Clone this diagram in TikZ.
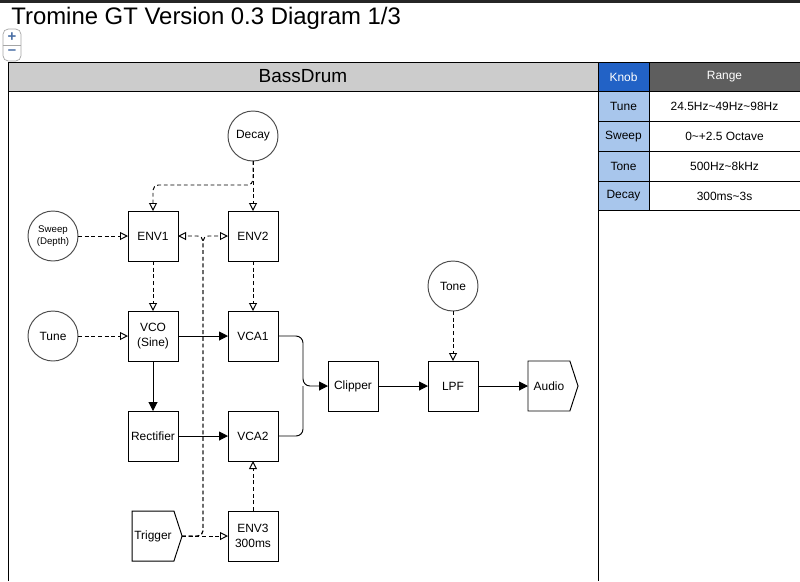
\documentclass[tikz,border=0pt]{standalone}
\usepackage{fontspec}
\setmainfont{Liberation Sans}
\usetikzlibrary{arrows.meta, positioning, shapes.symbols}

\definecolor{hdrgray}{HTML}{CCCCCC}
\definecolor{knobblue}{HTML}{2262C6}
\definecolor{rangegray}{HTML}{5E5E5E}
\definecolor{cellblue}{HTML}{A8C6EC}
\definecolor{zoomblue}{HTML}{4A6FA5}

\begin{document}
\begin{tikzpicture}[
  x=1cm, y=-1cm,
  node distance=1cm and 1cm,
  box/.style={rectangle, draw=black, line width=0.55pt, minimum size=1cm,
              inner sep=0pt, outer sep=0pt, align=center, font=\fontsize{6.8}{8.2}\selectfont},
  knob/.style={circle, draw=black!70, line width=0.55pt, minimum size=1cm,
               inner sep=0pt, outer sep=0pt, align=center, font=\fontsize{6.8}{8.2}\selectfont},
  port/.style={box, signal, signal to=east, signal pointer angle=144},
  cell/.style={rectangle, draw=black, line width=0.55pt, minimum height=0.595cm,
               inner sep=0pt, outer sep=0pt, anchor=north west, font=\fontsize{6.8}{8.2}\selectfont},
  sig/.style={-{Triangle[length=1.8mm, width=1.8mm]}, line width=0.55pt},
  ctl/.style={-{Triangle[open, length=1.6mm, width=1.6mm]}, line width=0.55pt,
              dash pattern=on 2.2pt off 1.6pt}
]
\useasboundingbox (0,0) rectangle (16,11.62);
\fill[black!85] (0,0) rectangle (16,0.06);

\node[anchor=base west, inner sep=0pt, font=\fontsize{13.6}{16}\selectfont] (title) at (0.22,0.48) {Tromine GT Version 0.3 Diagram 1/3};
\node[draw=black!35, fill=white, rounded corners=3pt, minimum width=0.36cm, minimum height=0.64cm] (zoomctl) at (0.24,0.9) {};
\draw[black!35] (zoomctl.west) -- (zoomctl.east);
\node[text=zoomblue, inner sep=0pt, font=\bfseries\fontsize{8.5}{8.5}\selectfont] (zoomin) at (0.24,0.74) {+};
\node[text=zoomblue, inner sep=0pt, font=\bfseries\fontsize{8.5}{8.5}\selectfont] (zoomout) at (0.24,1.04) {\textendash};

\draw[line width=0.55pt] (0.16,11.62) |- (11.96,1.24) -- (11.96,11.62);
\draw[line width=0.55pt, fill=hdrgray] (0.16,1.24) rectangle (11.96,1.82);
\node[font=\fontsize{10.8}{13}\selectfont] (bassdrum) at (6.06,1.53) {BassDrum};

\node[cell, fill=knobblue, text=white, minimum width=1.02cm] (knobhd) at (11.96,1.24) {Knob};
\node[cell, fill=rangegray, text=white, minimum width=3.02cm] (rangehd) at (12.98,1.24) {Range};
\foreach \knob/\range [count=\i] in {Tune/24.5Hz\textasciitilde 49Hz\textasciitilde 98Hz,
    Sweep/0\textasciitilde +2.5 Octave, Tone/500Hz\textasciitilde 8kHz, Decay/300ms\textasciitilde 3s} {
  \node[cell, fill=cellblue, minimum width=1.02cm] (knob\i) at (11.96,1.24+0.595*\i) {\knob};
  \node[cell, minimum width=3.02cm] (range\i) at (12.98,1.24+0.595*\i) {\range};
}

\node[knob] (decay) at (5.06,2.72) {Decay};
\node[box, below=of decay] (env2) {ENV2};
\node[box, left=of env2] (env1) {ENV1};
\node[knob, left=of env1, font=\fontsize{5.5}{6.8}\selectfont] (sweep) {Sweep\\(Depth)};
\node[box, below=of env1] (vco) {VCO\\(Sine)};
\node[knob, left=of vco] (tune) {Tune};
\node[box, below=of env2] (vca1) {VCA1};
\node[box, below=of vco] (rect) {Rectifier};
\node[box, below=of vca1] (vca2) {VCA2};
\node[port, below=of rect] (trigger) {Trigger};
\node[box, below=of vca2] (env3) {ENV3\\300ms};
\node[box] (clip) at (7.06,7.72) {Clipper};
\node[box, right=of clip] (lpf) {LPF};
\node[knob, above=of lpf] (tone) {Tone};
\node[port, right=of lpf] (audio) {Audio};

\coordinate (dk) at (5.06,3.7);
\coordinate (tsplit) at (4.06,4.72);
\coordinate (mix) at (6.06,7.72);

\draw[ctl] (decay) -- (env2);
\draw[ctl, rounded corners=3pt] (decay.south) -- (dk) -| (env1.north);
\draw[ctl] (sweep) -- (env1);
\draw[ctl] (tune) -- (vco);
\draw[ctl] (env1) -- (vco);
\draw[ctl] (env2) -- (vca1);
\draw[ctl] (tone) -- (lpf);
\draw[ctl] (env3) -- (vca2);
\draw[ctl] (trigger.east) -- (env3.west);
\draw[ctl, rounded corners=3pt] (trigger.east) -| (tsplit) -- (env1.east);
\draw[ctl, rounded corners=3pt] (trigger.east) -| (tsplit) -- (env2.west);

\draw[sig] (vco) -- (vca1);
\draw[sig] (vco) -- (rect);
\draw[sig] (rect) -- (vca2);
\draw[sig, rounded corners=4pt] (vca1.east) -| (mix) -- (clip.west);
\draw[line width=0.55pt, rounded corners=4pt] (vca2.east) -| (mix);
\draw[sig] (clip) -- (lpf);
\draw[sig] (lpf) -- (audio.west);
\end{tikzpicture}
\end{document}
